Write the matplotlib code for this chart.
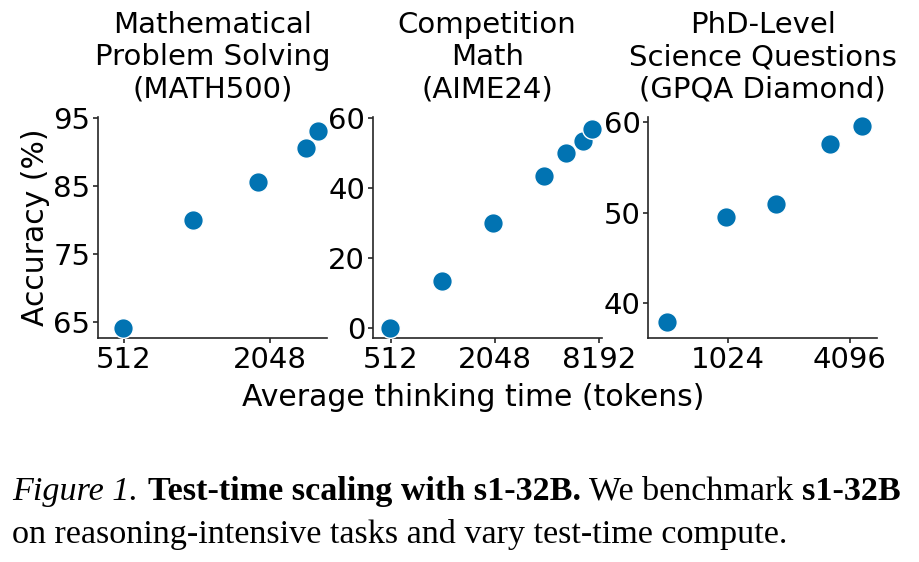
import numpy as np
import matplotlib
matplotlib.use("Agg")
import matplotlib.pyplot as plt
from matplotlib.ticker import FixedLocator, FixedFormatter, NullLocator

# Data
math500_tokens = [508, 985, 1819, 2872, 3215]
math500_acc = [64.1, 80.0, 85.6, 90.6, 93.2]

aime24_tokens = [508, 1009, 1994, 3927, 5283, 6622, 7399]
aime24_acc = [0.0, 13.3, 30.0, 43.3, 50.0, 53.3, 56.7]

gpqa_tokens = [507, 998, 1763, 3261, 4713]
gpqa_acc = [37.9, 49.5, 51.0, 57.6, 59.6]

titles = ["Mathematical\nProblem Solving\n(MATH500)",
          "Competition\nMath\n(AIME24)",
          "PhD-Level\nScience Questions\n(GPQA Diamond)"]
xticks = [[512, 2048], [512, 2048, 8192], [1024, 4096]]
yticks = [[65, 75, 85, 95], [0, 20, 40, 60], [40, 50, 60]]
xlims = [(402, 3509), (403, 8453), (412, 5592)]
ylims = [(62.6, 95.2), (-2.9, 60.2), (36.1, 60.6)]

BLUE = "#0173B2"
plt.rcParams["font.family"] = ["DejaVu Sans"]

fig = plt.figure(figsize=(9.19, 5.62), dpi=100)
lefts = [98, 372.7, 648.3]
series = [(math500_tokens, math500_acc), (aime24_tokens, aime24_acc), (gpqa_tokens, gpqa_acc)]

for i, (xs, ys) in enumerate(series):
    ax = fig.add_axes([lefts[i] / 919, 1 - 338 / 562, 229 / 919, 221 / 562])
    ax.scatter(xs, ys, s=200, color=BLUE, edgecolor="white", linewidth=1, zorder=3)
    ax.set_xscale("log", base=2)
    ax.set_xlim(*xlims[i])
    ax.set_ylim(*ylims[i])
    ax.xaxis.set_major_locator(FixedLocator(xticks[i]))
    ax.xaxis.set_major_formatter(FixedFormatter([str(t) for t in xticks[i]]))
    ax.xaxis.set_minor_locator(NullLocator())
    ax.set_yticks(yticks[i])
    ax.tick_params(labelsize=21, length=3.5, width=1.2, color=".15", pad=2)
    for side in ["top", "right"]:
        ax.spines[side].set_visible(False)
    for side in ["left", "bottom"]:
        ax.spines[side].set_color(".15")
        ax.spines[side].set_linewidth(1.2)
    ax.set_title(titles[i], fontsize=21, pad=14, linespacing=1.2)
    if i == 0:
        ax.set_ylabel("Accuracy (%)", fontsize=21.5, labelpad=2)

fig.text(473 / 919, 1 - 397 / 562, "Average thinking time (tokens)",
         fontsize=21.5, ha="center", va="center")

# Caption with mixed styles
cap_font = "Liberation Serif"
cap_size = 24.6
line1 = [("Figure 1.", "italic", "normal"), ("  ", "normal", "normal"),
         ("Test-time scaling with s1-32B.", "normal", "bold"),
         (" We benchmark ", "normal", "normal"), ("s1-32B", "normal", "bold")]
fig.canvas.draw()
renderer = fig.canvas.get_renderer()
x = 12 / 919
for txt, style, weight in line1:
    t = fig.text(x, 1 - 500 / 562, txt, fontsize=cap_size, family=cap_font,
                 style=style, weight=weight, va="baseline", ha="left")
    bb = t.get_window_extent(renderer)
    w = bb.width / fig.bbox.width
    if txt == "  ":
        w *= 0.6
    x += w
fig.text(12 / 919, 1 - 543 / 562, "on reasoning-intensive tasks and vary test-time compute.",
         fontsize=cap_size, family=cap_font, va="baseline", ha="left")

fig.savefig("out.png", dpi=100)
